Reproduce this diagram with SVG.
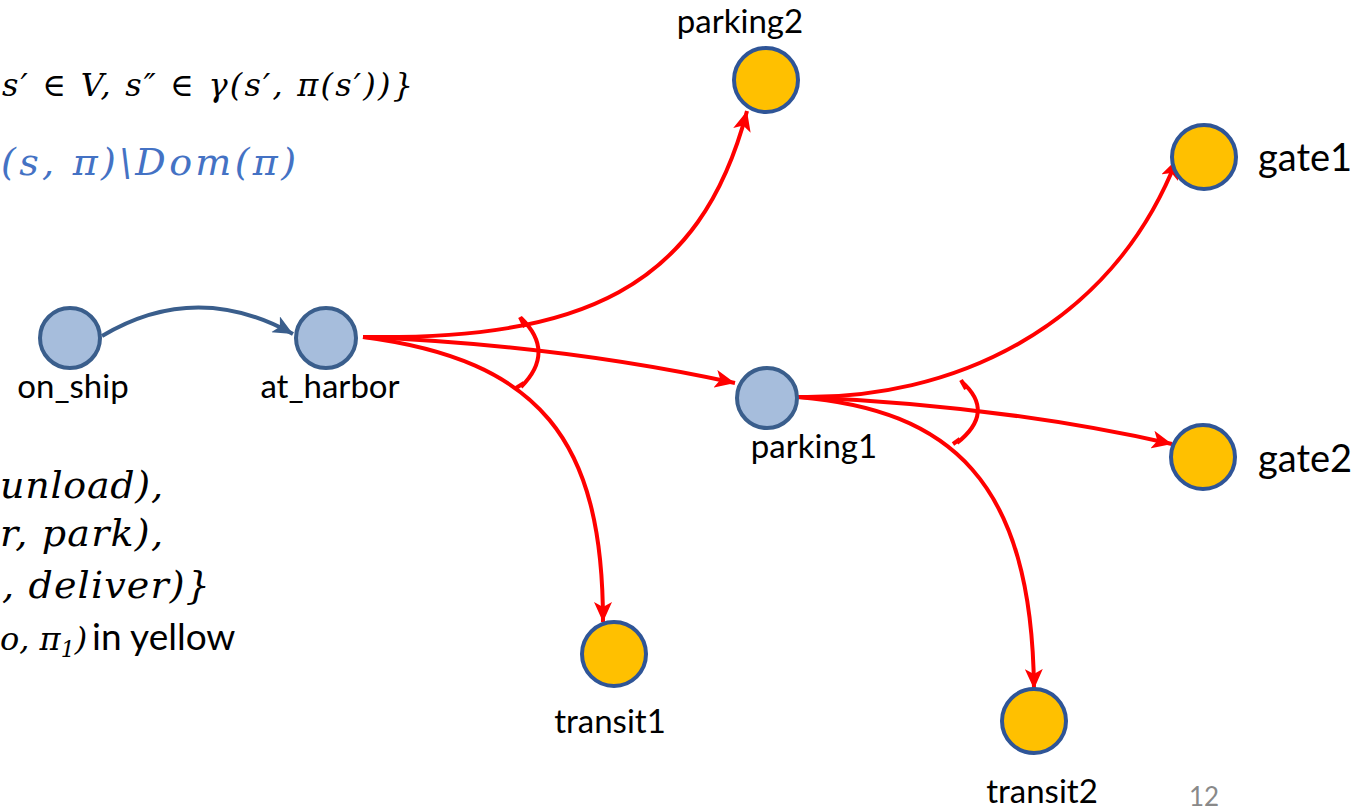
<svg xmlns="http://www.w3.org/2000/svg" width="1359" height="810" viewBox="0 0 1359 810">
  <defs>
    <marker id="arrRed" markerUnits="userSpaceOnUse" markerWidth="22" markerHeight="18" refX="20" refY="9" orient="auto">
      <path d="M0,0 L20,9 L0,18 L5,9 Z" fill="#FF0000"/>
    </marker>
    <marker id="arrBlue" markerUnits="userSpaceOnUse" markerWidth="22" markerHeight="18" refX="20" refY="9" orient="auto">
      <path d="M0,0 L20,9 L0,18 L5,9 Z" fill="#3A5E8C"/>
    </marker>
  </defs>
  <style>
    .blue { fill: #A6BDDC; stroke: #3A5E8C; stroke-width: 4; }
    .gold { fill: #FFC000; stroke: #2F5597; stroke-width: 4; }
    .lbl { font-family: Lato, "Open Sans", "Liberation Sans", sans-serif; font-size: 33px; fill: #000; }
    .lbl-big { font-family: Lato, "Open Sans", "Liberation Sans", sans-serif; font-size: 38px; fill: #000; }
    .math { font-family: "DejaVu Serif", "Liberation Serif", serif; font-style: italic; fill: #000; }
    .red { fill: none; stroke: #FF0000; stroke-width: 4; }
    .edge-red { fill: none; stroke: #FF0000; stroke-width: 4; marker-end: url(#arrRed); }
  </style>
  <rect width="1359" height="810" fill="#FFFFFF"/>

  <!-- formulas on the left -->
  <g id="formulas">
    <text class="math" x="2" y="96" font-size="32" textLength="411" lengthAdjust="spacing">s′ ∈ V, s″ ∈ γ(s′, π(s′))}</text>
    <text class="math" x="1" y="175" font-size="38" textLength="295" lengthAdjust="spacing" style="fill:#4472C4">(s, π)\Dom(π)</text>
    <text class="math" x="0" y="498" font-size="38" textLength="163" lengthAdjust="spacing">unload),</text>
    <text class="math" x="0" y="546" font-size="38" textLength="163" lengthAdjust="spacing">r, park),</text>
    <text class="math" x="2" y="598" font-size="38" textLength="208" lengthAdjust="spacing">, deliver)}</text>
    <text class="math" x="0" y="650" font-size="32">o, π<tspan font-size="22" dy="7">1</tspan><tspan dy="-7">)</tspan></text>
    <text x="92" y="650" font-size="37" font-family="Lato, 'Open Sans', 'Liberation Sans', sans-serif">in yellow</text>
  </g>

  <!-- connectors -->
  <g id="connectors">
    <path d="M102,336 Q196,280 293,334" fill="none" stroke="#3A5E8C" stroke-width="4" marker-end="url(#arrBlue)"/>

    <path class="edge-red" d="M363,337 C580,340 700,290 747,111"/>
    <path class="edge-red" d="M363,337 Q560,345 735,383"/>
    <path class="edge-red" d="M363,337 C540,360 603,440 603,622"/>
    <path class="red" d="M521,318 Q556,352 521,387"/>
    <path class="red" d="M520,317 L525,327"/>
    <path class="red" d="M516,388 L524,383"/>

    <path class="edge-red" d="M798,397 C950,400 1110,330 1177,159"/>
    <path class="edge-red" d="M798,397 Q1000,405 1172,444"/>
    <path class="edge-red" d="M798,397 C950,410 1032,480 1034,689"/>
    <path class="red" d="M962,382 Q996,412 957,443"/>
    <path class="red" d="M961,380 L966,389"/>
    <path class="red" d="M953,444 L960,439"/>
  </g>

  <!-- nodes -->
  <g id="on_ship">
    <circle class="blue" cx="70" cy="338" r="30"/>
    <text class="lbl" x="73" y="398" text-anchor="middle">on_ship</text>
  </g>
  <g id="at_harbor">
    <circle class="blue" cx="326" cy="338" r="30"/>
    <text class="lbl" x="330" y="398" text-anchor="middle">at_harbor</text>
  </g>
  <g id="parking1">
    <circle class="blue" cx="767" cy="398" r="30"/>
    <text class="lbl" x="814" y="458" text-anchor="middle">parking1</text>
  </g>
  <g id="parking2">
    <circle class="gold" cx="766" cy="80" r="32"/>
    <text class="lbl" x="740" y="33" text-anchor="middle">parking2</text>
  </g>
  <g id="gate1">
    <circle class="gold" cx="1204" cy="157" r="32"/>
    <text class="lbl-big" x="1258" y="171">gate1</text>
  </g>
  <g id="gate2">
    <circle class="gold" cx="1203" cy="457" r="32"/>
    <text class="lbl-big" x="1258" y="472">gate2</text>
  </g>
  <g id="transit1">
    <circle class="gold" cx="614" cy="654" r="32"/>
    <text class="lbl" x="610" y="733" text-anchor="middle">transit1</text>
  </g>
  <g id="transit2">
    <circle class="gold" cx="1034" cy="721" r="32"/>
    <text class="lbl" x="1042" y="803" text-anchor="middle">transit2</text>
  </g>

  <text x="1204" y="806" text-anchor="middle" font-family="Lato, 'Open Sans', 'Liberation Sans', sans-serif" font-size="26" fill="#898989">12</text>
</svg>
